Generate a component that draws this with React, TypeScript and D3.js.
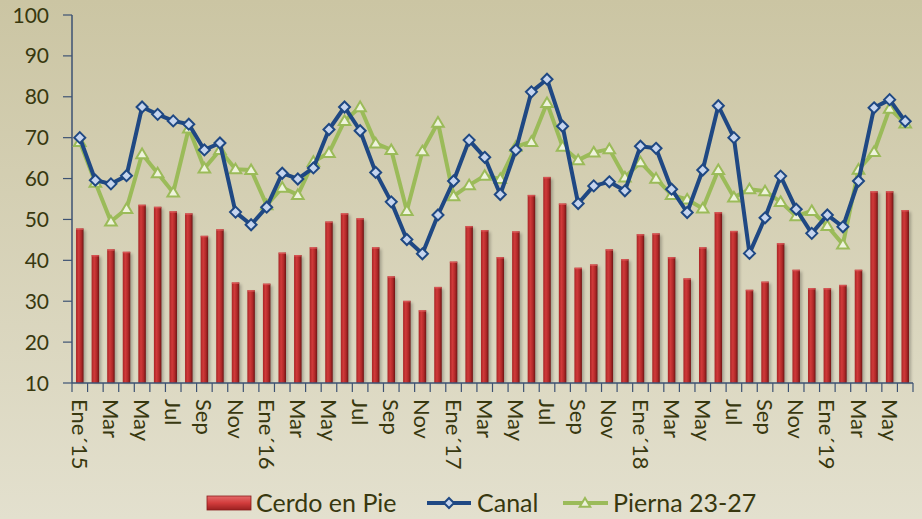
import * as d3 from "d3";
import React from "react";

// monthly series Ene'15 .. Jun'19
const months = [
  "Ene´15", "Feb", "Mar", "Abr", "May", "Jun", "Jul", "Ago", "Sep", "Oct", "Nov", "Dic",
  "Ene´16", "Feb", "Mar", "Abr", "May", "Jun", "Jul", "Ago", "Sep", "Oct", "Nov", "Dic",
  "Ene´17", "Feb", "Mar", "Abr", "May", "Jun", "Jul", "Ago", "Sep", "Oct", "Nov", "Dic",
  "Ene´18", "Feb", "Mar", "Abr", "May", "Jun", "Jul", "Ago", "Sep", "Oct", "Nov", "Dic",
  "Ene´19", "Feb", "Mar", "Abr", "May", "Jun",
];

const cerdoEnPie = [
  47.8, 41.3, 42.7, 42.1, 53.6, 53.1, 52.0, 51.5, 46.0, 47.6, 34.6, 32.7,
  34.3, 41.9, 41.3, 43.2, 49.5, 51.5, 50.3, 43.2, 36.1, 30.1, 27.8, 33.5,
  39.7, 48.4, 47.4, 40.8, 47.1, 56.0, 60.4, 53.9, 38.2, 39.0, 42.7, 40.3,
  46.4, 46.6, 40.8, 35.6, 43.2, 51.8, 47.2, 32.8, 34.8, 44.2, 37.7, 33.2,
  33.2, 34.0, 37.7, 56.9, 56.9, 52.3,
];

const canal = [
  70.0, 59.6, 58.7, 60.7, 77.5, 75.7, 74.1, 73.3, 67.0, 68.7, 51.8, 48.7,
  53.0, 61.3, 59.9, 62.6, 72.0, 77.5, 71.7, 61.5, 54.3, 45.1, 41.6, 51.1,
  59.4, 69.4, 65.2, 56.1, 67.0, 81.2, 84.3, 72.8, 53.9, 58.2, 59.2, 57.0,
  67.9, 67.4, 57.4, 51.7, 62.1, 77.8, 70.0, 41.7, 50.4, 60.6, 52.5, 46.6,
  51.1, 48.2, 59.4, 77.3, 79.3, 74.0,
];

const pierna = [
  69.0, 59.0, 49.5, 52.6, 66.0, 61.3, 56.6, 72.3, 62.5, 67.0, 62.3, 62.1,
  53.5, 57.8, 56.0, 64.1, 66.3, 74.1, 77.5, 68.6, 67.0, 52.1, 66.7, 73.7,
  55.7, 58.4, 60.7, 59.9, 67.8, 69.0, 78.5, 67.8, 64.5, 66.4, 67.2, 60.3,
  64.0, 60.0, 56.0, 54.9, 52.7, 62.1, 55.4, 57.4, 56.9, 54.3, 50.8, 52.1,
  48.4, 43.9, 62.2, 66.5, 77.1, 73.5,
];

const yTicks = [10, 20, 30, 40, 50, 60, 70, 80, 90, 100];

const W = 922;
const H = 519;
const m = { top: 15, left: 72, right: 9, bottom: 136 };
const FONT = "Lato, 'Open Sans', sans-serif";
const TXT = "#38380f";
const AXIS = "#3d5273";

export default function App() {
  const innerH = H - m.top - m.bottom;
  const x = d3
    .scaleBand<number>()
    .domain(d3.range(months.length))
    .range([m.left, W - m.right]);
  const y = d3.scaleLinear().domain([10, 100]).range([m.top + innerH, m.top]);
  const cx = (i: number) => (x(i) || 0) + x.bandwidth() / 2;
  const barW = 7.5;

  const line = d3
    .line<number>()
    .x((_, i) => cx(i))
    .y((d) => y(d));

  const diamond = (s: number) => `M0,${-s}L${s},0L0,${s}L${-s},0Z`;
  const tri = (s: number) => `M0,${-s}L${s * 1.05},${s * 0.75}L${-s * 1.05},${s * 0.75}Z`;

  return (
    <svg
      width={W}
      height={H}
      style={{ position: "absolute", left: 0, top: 0, fontFamily: FONT }}>
      <defs>
        <linearGradient id="bg" x1="0" y1="0" x2="0" y2="1">
          <stop offset="0" stopColor="#cbc5a3" />
          <stop offset="1" stopColor="#e3e0ce" />
        </linearGradient>
        <linearGradient id="bar" x1="0" y1="0" x2="1" y2="0">
          <stop offset="0" stopColor="#a82525" />
          <stop offset="0.35" stopColor="#d03a3a" />
          <stop offset="0.7" stopColor="#b02828" />
          <stop offset="1" stopColor="#6e1414" />
        </linearGradient>
        <linearGradient id="legbar" x1="0" y1="0" x2="0" y2="1">
          <stop offset="0" stopColor="#e46a6a" />
          <stop offset="0.5" stopColor="#d23c3c" />
          <stop offset="1" stopColor="#9a2020" />
        </linearGradient>
        <filter id="blur" x="-50%" y="-10%" width="200%" height="120%">
          <feGaussianBlur stdDeviation="1.5" />
        </filter>
      </defs>
      <rect width={W} height={H} fill="url(#bg)" />

      {/* bars */}
      <g>
        {cerdoEnPie.map((v, i) => (
          <g key={i}>
            <rect
              x={cx(i) - barW / 2 + 2}
              y={y(v) + 2}
              width={barW}
              height={y(10) - y(v) - 2}
              fill="#000"
              opacity={0.25}
              filter="url(#blur)"
            />
            <rect
              x={cx(i) - barW / 2}
              y={y(v)}
              width={barW}
              height={y(10) - y(v)}
              fill="url(#bar)"
            />
            <rect x={cx(i) - barW / 2} y={y(v)} width={barW} height={1.5} fill="#e06060" opacity={0.7} />
          </g>
        ))}
      </g>

      {/* y axis */}
      <line x1={m.left} x2={m.left} y1={y(100)} y2={y(10)} stroke={AXIS} strokeWidth={1.5} />
      {yTicks.map((t) => (
        <g key={t} transform={`translate(0,${y(t)})`}>
          <line x1={m.left - 9} x2={m.left} stroke={AXIS} strokeWidth={1.2} />
          <text x={49} dy="0.36em" textAnchor="end" fontSize={21} fill={TXT}>
            {t}
          </text>
        </g>
      ))}

      {/* x axis */}
      <line x1={m.left} x2={W - m.right} y1={y(10)} y2={y(10)} stroke={AXIS} strokeWidth={1.5} />
      {d3.range(months.length + 1).map((i) => {
        const xx = i < months.length ? x(i) || 0 : W - m.right;
        return <line key={i} x1={xx} x2={xx} y1={y(10)} y2={y(10) + 9} stroke={AXIS} strokeWidth={1.2} />;
      })}
      {months.map((mo, i) =>
        i % 2 === 0 ? (
          <text
            key={i}
            transform={`translate(${cx(i)},${y(10) + 16}) rotate(90)`}
            dy="0.36em"
            fontSize={22}
            fill={TXT}>
            {mo}
          </text>
        ) : null,
      )}

      {/* Pierna 23-27 */}
      <path d={line(pierna) || ""} fill="none" stroke="#9bbb59" strokeWidth={4} strokeLinejoin="round" />
      {pierna.map((v, i) => (
        <path
          key={i}
          d={tri(5.5)}
          transform={`translate(${cx(i)},${y(v)})`}
          fill="#eef3dc"
          stroke="#9bbb59"
          strokeWidth={2}
        />
      ))}

      {/* Canal */}
      <path d={line(canal) || ""} fill="none" stroke="#1f4883" strokeWidth={4} strokeLinejoin="round" />
      {canal.map((v, i) => (
        <path
          key={i}
          d={diamond(5.5)}
          transform={`translate(${cx(i)},${y(v)})`}
          fill="#c6d5ee"
          stroke="#1f4883"
          strokeWidth={2}
        />
      ))}

      {/* legend */}
      <g fontSize={25} fill={TXT}>
        <rect x={207} y={496} width={44} height={14} fill="url(#legbar)" stroke="#8a1c1c" strokeWidth={0.8} />
        <text x={256} y={503} dy="0.36em">Cerdo en Pie</text>
        <line x1={427} x2={471} y1={503} y2={503} stroke="#1f4883" strokeWidth={4} />
        <path d={diamond(5)} transform="translate(449,503)" fill="#c6d5ee" stroke="#1f4883" strokeWidth={2} />
        <text x={477} y={503} dy="0.36em">Canal</text>
        <line x1={563} x2={608} y1={503} y2={503} stroke="#9bbb59" strokeWidth={4} />
        <path d={tri(5)} transform="translate(585,503)" fill="#eef3dc" stroke="#9bbb59" strokeWidth={2} />
        <text x={613} y={503} dy="0.36em">Pierna 23-27</text>
      </g>
    </svg>
  );
}
